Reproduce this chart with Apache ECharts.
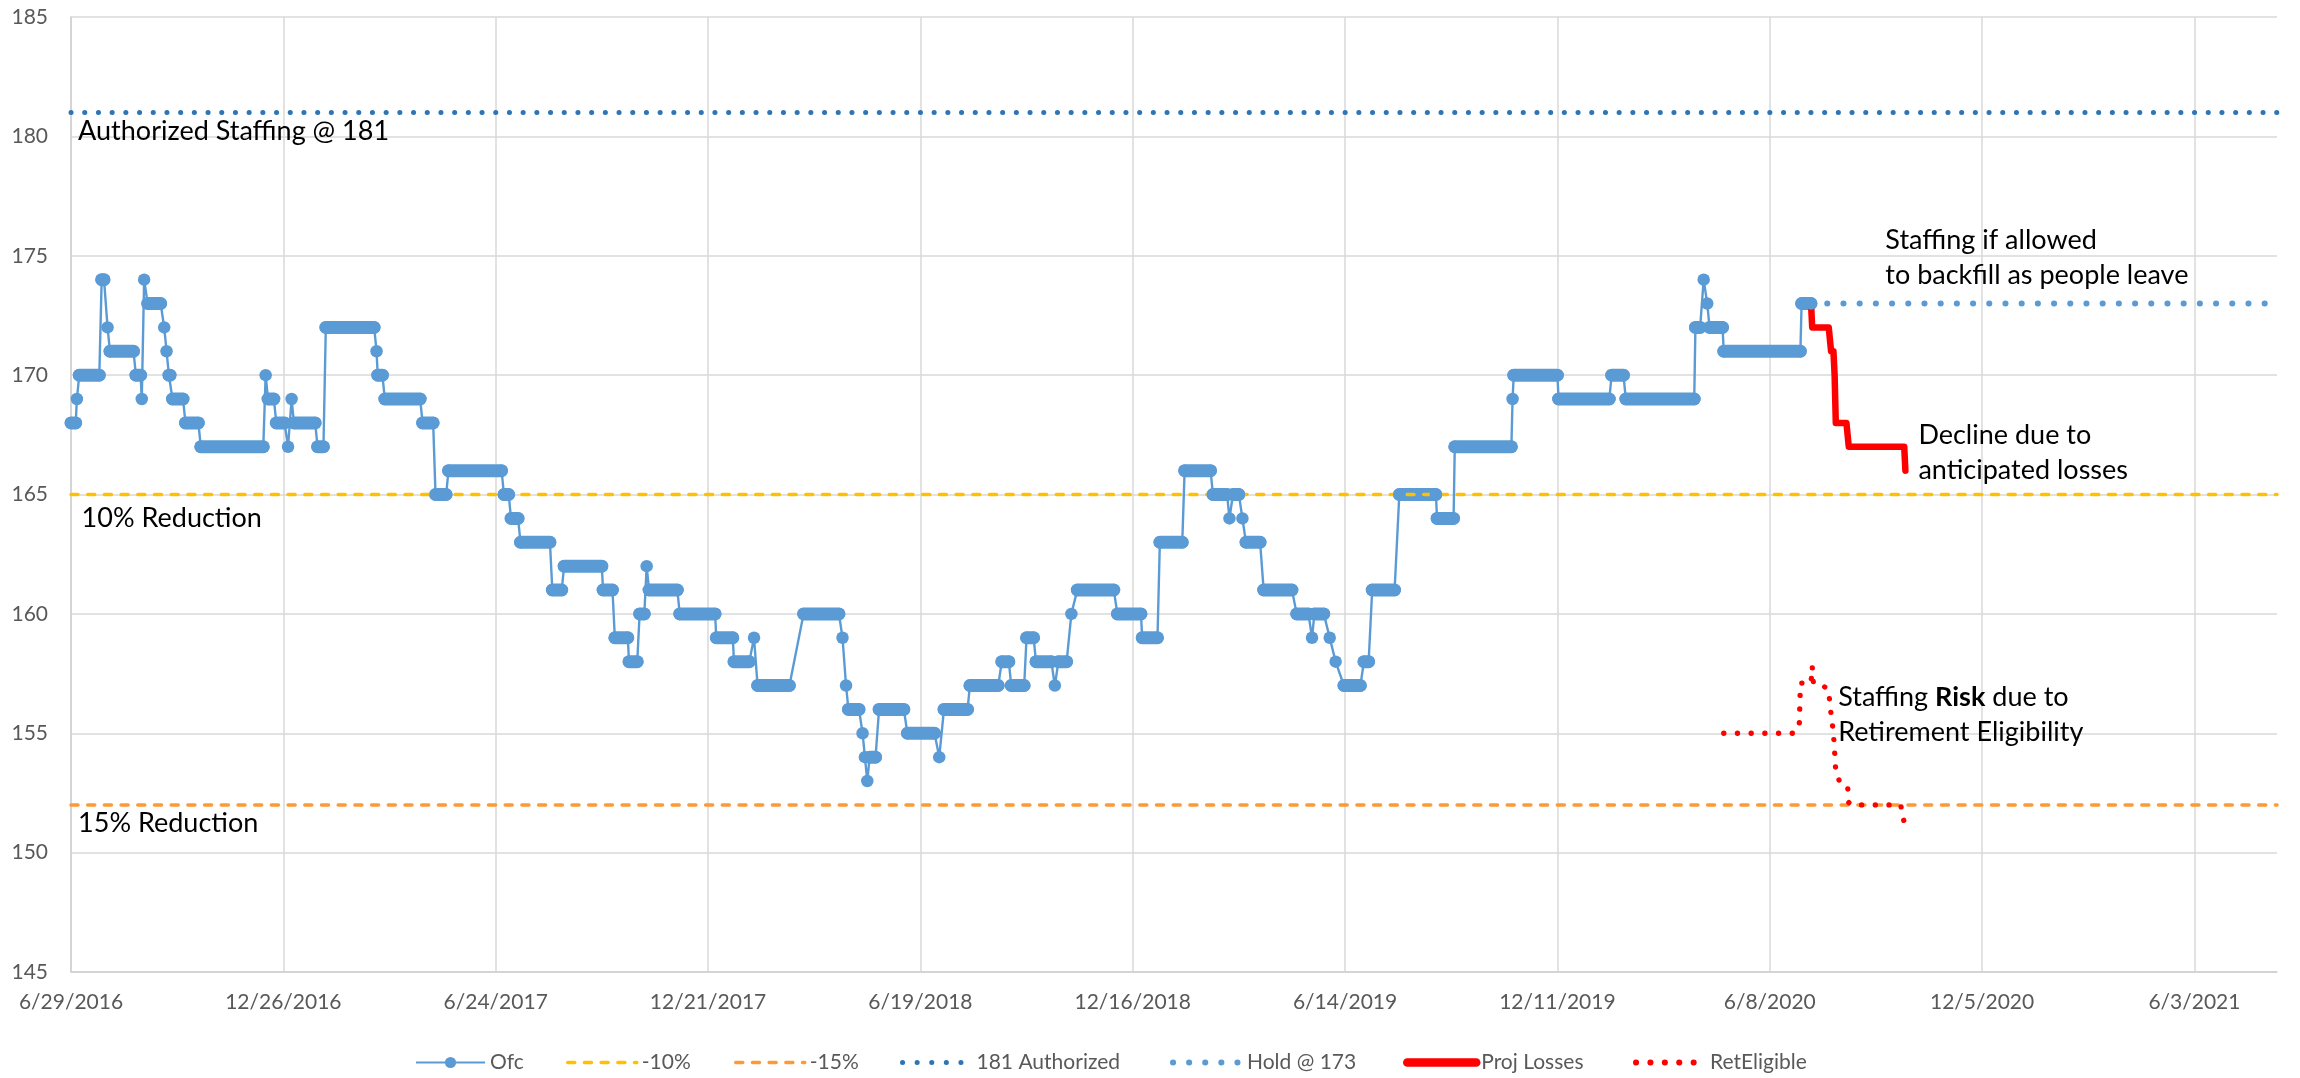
<!DOCTYPE html>
<html><head><meta charset="utf-8">
<script src="https://cdn.jsdelivr.net/npm/echarts@6/dist/echarts.min.js"></script>
<style>html,body{margin:0;padding:0;background:#fff}#c{width:2300px;height:1078px}</style>
</head><body><div id="c"></div>
<script>
// ---------- DATA ----------
// Ofc staffing: plateaus (first date, last date, headcount)
const ofcStart = ['2016-06-29','2016-07-04','2016-07-06','2016-07-25','2016-07-30','2016-08-01','2016-08-23','2016-08-28','2016-08-30','2016-09-02',
  '2016-09-16','2016-09-18','2016-09-20','2016-09-23','2016-10-04','2016-10-17','2016-12-11','2016-12-13','2016-12-20','2016-12-30',
  '2017-01-02','2017-01-04','2017-01-24','2017-01-31','2017-03-15','2017-03-16','2017-03-22','2017-04-23','2017-05-04','2017-05-15',
  '2017-07-01','2017-07-07','2017-07-15','2017-08-11','2017-08-21','2017-09-23','2017-10-03','2017-10-15','2017-10-24','2017-10-30',
  '2017-11-01','2017-11-27','2017-12-28','2018-01-12','2018-01-29','2018-02-01','2018-03-12','2018-04-14','2018-04-17','2018-04-19',
  '2018-05-01','2018-05-03','2018-05-05','2018-05-07','2018-05-15','2018-06-08','2018-07-05','2018-07-09','2018-07-31','2018-08-27',
  '2018-09-04','2018-09-17','2018-09-25','2018-10-11','2018-10-14','2018-10-25','2018-10-30','2018-12-03','2018-12-24','2019-01-08',
  '2019-01-29','2019-02-22','2019-03-08','2019-03-11','2019-03-19','2019-03-22','2019-04-06','2019-05-04','2019-05-17','2019-05-19',
  '2019-06-01','2019-06-06','2019-06-13','2019-06-30','2019-07-07','2019-07-30','2019-08-31','2019-09-15','2019-11-03','2019-11-04',
  '2019-12-12','2020-01-26','2020-02-07','2020-04-06','2020-04-13','2020-04-16','2020-04-18','2020-04-30','2020-07-05'];
const ofcEnd = ['2016-07-03','2016-07-04','2016-07-23','2016-07-27','2016-07-30','2016-08-21','2016-08-27','2016-08-28','2016-08-30','2016-09-13',
  '2016-09-16','2016-09-18','2016-09-21','2016-10-02','2016-10-15','2016-12-09','2016-12-11','2016-12-18','2016-12-27','2016-12-30',
  '2017-01-02','2017-01-22','2017-01-29','2017-03-13','2017-03-15','2017-03-20','2017-04-21','2017-05-02','2017-05-13','2017-06-29',
  '2017-07-05','2017-07-13','2017-08-09','2017-08-19','2017-09-22','2017-10-01','2017-10-14','2017-10-22','2017-10-28','2017-10-30',
  '2017-11-25','2017-12-27','2018-01-11','2018-01-25','2018-01-29','2018-02-28','2018-04-11','2018-04-14','2018-04-17','2018-04-28',
  '2018-05-01','2018-05-03','2018-05-05','2018-05-12','2018-06-05','2018-07-01','2018-07-05','2018-07-29','2018-08-24','2018-09-02',
  '2018-09-15','2018-09-23','2018-10-08','2018-10-11','2018-10-21','2018-10-25','2018-11-30','2018-12-23','2019-01-06','2019-01-27',
  '2019-02-20','2019-03-06','2019-03-08','2019-03-16','2019-03-19','2019-04-03','2019-04-30','2019-05-14','2019-05-17','2019-05-27',
  '2019-06-01','2019-06-06','2019-06-27','2019-07-04','2019-07-26','2019-08-30','2019-09-14','2019-11-02','2019-11-03','2019-12-11',
  '2020-01-24','2020-02-05','2020-04-05','2020-04-10','2020-04-13','2020-04-16','2020-04-29','2020-07-04','2020-07-13'];
const ofcValue = [168,169,170,174,172,171,170,169,174,173,
  172,171,170,169,168,167,170,169,168,167,
  169,168,167,172,171,170,169,168,165,166,
  165,164,163,161,162,161,159,158,160,162,
  161,160,159,158,159,157,160,159,157,156,
  155,154,153,154,156,155,154,156,157,158,
  157,159,158,157,158,160,161,160,159,163,
  166,165,164,165,164,163,161,160,159,160,
  159,158,157,158,161,165,164,167,169,170,
  169,170,169,172,174,173,172,171,173];

// Projected losses
const projDates = ['2020-07-13','2020-07-14','2020-07-28','2020-07-30','2020-08-01','2020-08-02','2020-08-03','2020-08-12','2020-08-14','2020-09-30','2020-10-01'];
const projValues = [173,172,172,171,171,170,168,168,167,167,166];

// Retirement eligible
const retDates = ['2020-04-30','2020-06-28','2020-07-03','2020-07-04','2020-07-13','2020-07-14','2020-07-15','2020-07-23','2020-07-28','2020-07-29',
  '2020-08-01','2020-08-03','2020-08-06','2020-08-13','2020-08-14','2020-08-16','2020-09-27','2020-10-01'];
const retValues = [155,155,155.3,157.1,157.1,157.8,157.1,157.0,156.8,156.2,
  155,153.4,153.0,152.8,152.1,152,152,151];

// Hold @ 173
const holdDates = ['2020-07-13','2021-08-12'];
const holdValues = [173,173];

// Reference lines
const refDates = ['2016-06-29','2021-08-12'];
const tenPctValues = [165,165];
const fifteenPctValues = [152,152];
const authorizedValues = [181,181];

// Axes
const xAxisStart = '2016-06-29';
const xAxisEnd = '2021-08-12';
const xTickDays = 180;
const yMin = 145, yMax = 185, yStep = 5;

// Legend entries
const legendNames = ['Ofc','-10%','-15%','181 Authorized','Hold @ 173','Proj Losses','RetEligible'];

// Annotations: anchor date, anchor value, text
const noteDates = ['2016-07-05','2016-07-08','2016-07-05','2020-09-14','2020-10-12','2020-08-05'];
const noteValues = [180.2,164.0,151.24,174.93,166.76,155.79];
const noteTexts = ['Authorized Staffing @ 181','10% Reduction','15% Reduction',
  'Staffing if allowed\nto backfill as people leave','Decline due to\nanticipated losses',
  'Staffing {b|Risk} due to\nRetirement Eligibility'];

// ---------- BUILD ----------
const DAY = 86400000;
const BASE = (function(s){const p=s.split('-').map(Number);return Date.UTC(p[0],p[1]-1,p[2]);})(xAxisStart);
function dayOf(s){const p=s.split('-').map(Number);return Math.round((Date.UTC(p[0],p[1]-1,p[2])-BASE)/DAY);}
function fmt(v){const d=new Date(BASE+v*DAY);return (d.getUTCMonth()+1)+'/'+d.getUTCDate()+'/'+d.getUTCFullYear();}
function pairs(ds,vs){return ds.map((d,i)=>[dayOf(d),vs[i]]);}

const ofcPoints = [], ofcBars = [];
ofcStart.forEach((s,i)=>{
  const a=dayOf(s), b=dayOf(ofcEnd[i]), v=ofcValue[i];
  ofcPoints.push([a,v]);
  if(b!==a){ofcPoints.push([b,v]); ofcBars.push([a,v],[b,v],[b,null]);}
});

const FONT='Lato';
const BLUE='#5B9BD5', YEL='#FFC000', ORG='#FF9933', DBLUE='#2E75B6', RED='#FF0000';
const xMax = dayOf(xAxisEnd);

const styles = {
  'Ofc':null,
  '-10%':{width:3.5,type:[7,9.7],cap:'round',color:YEL},
  '-15%':{width:3.5,type:[7,9.7],cap:'round',color:ORG},
  '181 Authorized':{width:5,type:[0.1,14.5],cap:'round',color:DBLUE},
  'Hold @ 173':{width:6,type:[0.1,16],cap:'round',color:BLUE},
  'Proj Losses':{width:8.5,cap:'round',color:RED},
  'RetEligible':{width:6,type:[0.1,14.3],cap:'round',color:RED}
};
const legendLefts = [415,566,734,900,1170,1403,1633];
const legends = legendNames.map((n,i)=>({
  left:legendLefts[i],top:1052,padding:0,itemWidth:69,itemHeight:14,selectedMode:false,orient:'horizontal',
  textStyle:{fontFamily:FONT,fontSize:21,color:'#595959'},
  data:[styles[n]?{name:n,itemStyle:{opacity:0},lineStyle:styles[n]}:{name:n}]
}));

const option = {
  animation:false,
  backgroundColor:'#ffffff',
  grid:{left:71,right:23,top:17,bottom:106,outerBoundsMode:'none',containLabel:false},
  xAxis:{type:'value',min:0,max:xMax,interval:xTickDays,
    axisLine:{show:true,onZero:false,lineStyle:{color:'#D0D0D0',width:1.5}},
    axisTick:{show:false},
    splitLine:{show:true,showMaxLine:false,lineStyle:{color:'#D9D9D9',width:1.5}},
    axisLabel:{formatter:fmt,showMaxLabel:false,margin:20,color:'#595959',fontSize:21,fontFamily:FONT}},
  yAxis:{type:'value',min:yMin,max:yMax,interval:yStep,
    axisLine:{show:true,lineStyle:{color:'#D0D0D0',width:1.5}},
    axisTick:{show:false},
    splitLine:{show:true,lineStyle:{color:'#D9D9D9',width:1.5}},
    axisLabel:{margin:23,color:'#595959',fontSize:21,fontFamily:FONT}},
  legend:legends,
  series:[
    {name:'OfcBars',type:'line',data:ofcBars,symbol:'none',silent:true,connectNulls:false,
      lineStyle:{width:13,color:BLUE,cap:'round'},itemStyle:{color:BLUE}},
    {name:'Ofc',type:'line',data:ofcPoints,symbol:'circle',symbolSize:12.5,showAllSymbol:true,
      itemStyle:{color:BLUE},lineStyle:{width:2.4,color:BLUE}},
    {name:'-10%',type:'line',data:pairs(refDates,tenPctValues),symbol:'none',
      itemStyle:{color:YEL},lineStyle:{width:3.5,color:YEL,type:[7,9.7],cap:'round'}},
    {name:'-15%',type:'line',data:pairs(refDates,fifteenPctValues),symbol:'none',
      itemStyle:{color:ORG},lineStyle:{width:3.5,color:ORG,type:[7,9.7],cap:'round'}},
    {name:'181 Authorized',type:'line',data:pairs(refDates,authorizedValues),symbol:'none',
      itemStyle:{color:DBLUE},lineStyle:{width:5,color:DBLUE,type:[0.1,13.6],cap:'round'}},
    {name:'Hold @ 173',type:'line',data:pairs(holdDates,holdValues),symbol:'none',
      itemStyle:{color:BLUE},lineStyle:{width:6,color:BLUE,type:[0.1,16.1],cap:'round'}},
    {name:'Proj Losses',type:'line',data:pairs(projDates,projValues),symbol:'none',
      itemStyle:{color:RED},lineStyle:{width:6.5,color:RED,cap:'round',join:'round'}},
    {name:'RetEligible',type:'line',data:pairs(retDates,retValues),symbol:'none',
      itemStyle:{color:RED},lineStyle:{width:5.3,color:RED,type:[0.1,13.6],cap:'round'}}
  ]
};

const chart = echarts.init(document.getElementById('c'),null,{renderer:'canvas',width:2300,height:1078});
chart.setOption(option);

const graphics = noteTexts.map((t,i)=>{
  const p = chart.convertToPixel({gridIndex:0},[dayOf(noteDates[i]),noteValues[i]]);
  return {type:'text',x:p[0],y:p[1],z:100,silent:true,
    style:{text:t,fill:'#000000',fontFamily:FONT,fontSize:27,lineHeight:35,align:'left',verticalAlign:'middle',
      rich:{b:{fontFamily:FONT,fontSize:27,fontWeight:'bold',fill:'#000000',lineHeight:35}}}};
});
chart.setOption({graphic:graphics});
</script>
</body></html>
